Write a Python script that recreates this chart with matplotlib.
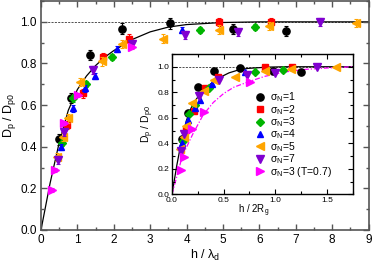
import numpy as np
import matplotlib
matplotlib.use("Agg")
from matplotlib import pyplot as plt
from matplotlib.ticker import MultipleLocator

plt.rcParams['font.family'] = ['Liberation Sans', 'DejaVu Sans']
plt.rcParams['mathtext.fontset'] = 'custom'
plt.rcParams['mathtext.rm'] = 'Liberation Sans'
plt.rcParams['mathtext.it'] = 'Liberation Sans'
plt.rcParams['mathtext.default'] = 'regular'

# main panel data: h / lambda_d  vs  Dp / Dp0
x1 = [0.50, 0.82, 1.35, 2.22, 3.54, 5.27, 6.74]
y1 = [0.435, 0.635, 0.84, 0.968, 0.993, 0.965, 0.955]
x2 = [0.71, 1.15, 1.71, 2.43, 4.90, 6.33]
y2 = [0.504, 0.656, 0.83, 0.92, 1.0, 1.0]
x3 = [0.58, 0.89, 1.24, 1.94, 4.38, 5.89]
y3 = [0.42, 0.632, 0.70, 0.83, 0.96, 0.976]
x4 = [0.54, 0.87, 1.21, 1.48, 2.10, 3.86]
y4 = [0.40, 0.584, 0.68, 0.74, 0.868, 0.96]
x5 = [0.43, 0.61, 0.75, 1.07, 1.67, 2.22, 3.34, 4.88, 6.26, 8.66]
y5 = [0.352, 0.448, 0.536, 0.712, 0.81, 0.895, 0.92, 0.963, 0.98, 0.995]
x7 = [0.48, 0.64, 1.44, 2.49, 3.96, 5.40, 7.66]
y7 = [0.336, 0.472, 0.768, 0.895, 0.936, 0.95, 1.0]
xT = [0.29, 0.385, 0.63, 1.02, 2.49]
yT = [0.192, 0.29, 0.515, 0.648, 0.88]

# inset data: h / 2Rg
u1 = [0.093, 0.152, 0.25, 0.41, 0.655, 0.975, 1.247]
u2 = [0.131, 0.212, 0.315, 0.447, 0.902, 1.165]
u3 = [0.106, 0.163, 0.227, 0.355, 0.80, 1.078]
u4 = [0.099, 0.159, 0.221, 0.271, 0.384, 0.706]
u5 = [0.079, 0.112, 0.138, 0.197, 0.307, 0.408, 0.615, 0.898, 1.152, 1.593]
u7 = [0.088, 0.118, 0.265, 0.458, 0.729, 0.994, 1.409]
uT = [0.088, 0.117, 0.192, 0.311, 0.759]

# fit curves
cx = [0, 0.25, 0.5, 0.75, 1.0, 1.25, 1.5, 1.75, 2.0, 2.5, 3.0, 3.5, 4.0, 5.0, 6.0, 7.0, 9.0]
cy = [0, 0.225, 0.42, 0.575, 0.675, 0.74, 0.79, 0.83, 0.862, 0.915, 0.952, 0.975, 0.987, 0.997, 1.0, 1.0, 1.0]
icx = [0, 0.046, 0.092, 0.138, 0.184, 0.23, 0.276, 0.322, 0.368, 0.46, 0.552, 0.644, 0.736, 0.92, 1.1, 1.29, 1.75]
mcx = [0, 0.1, 0.2, 0.3, 0.4, 0.5, 0.6, 0.75, 0.9, 1.1, 1.3, 1.5, 1.75]
mcy = [0, 0.3, 0.47, 0.62, 0.72, 0.79, 0.84, 0.885, 0.925, 0.96, 0.98, 0.99, 1.0]

labels = [r'$\sigma_N$=1', r'$\sigma_N$=2', r'$\sigma_N$=3', r'$\sigma_N$=4',
          r'$\sigma_N$=5', r'$\sigma_N$=7', r'$\sigma_N$=3 (T=0.7)']
colors = ['black', 'red', '#00b400', 'blue', 'orange', '#8000d0', 'magenta']
markers = ['o', 's', 'D', '^', '<', 'v', '>']
sizes = [5.2, 4.6, 3.8, 4.8, 5.2, 5.2, 5.2]
errs = [0.025, 0.02, 0.015, 0.015, 0.02, 0.02, 0.01]
main_x = [x1, x2, x3, x4, x5, x7, xT]
main_y = [y1, y2, y3, y4, y5, y7, yT]
ins_x = [u1, u2, u3, u4, u5, u7, uT]

fig = plt.figure(figsize=(3.74, 2.63), dpi=100)
ax = fig.add_axes([0.1096, 0.1255, 0.876, 0.8705])
for i in range(7):
    ax.errorbar(main_x[i], main_y[i], yerr=errs[i], fmt='none', ecolor=colors[i],
                elinewidth=0.8, capsize=1.5, capthick=0.8)
    ax.plot(main_x[i], main_y[i], linestyle='none', marker=markers[i],
            color=colors[i], ms=sizes[i], mec=colors[i])
ax.plot(cx, cy, color='black', lw=0.9, zorder=1)
ax.axhline(1.0, color='#333333', lw=0.6, ls=(0, (2.5, 1.5)), zorder=0)
ax.set_xlim(0, 9)
ax.set_ylim(0, 1.1)
ax.xaxis.set_major_locator(MultipleLocator(1))
ax.xaxis.set_minor_locator(MultipleLocator(0.5))
ax.set_yticks([0, 0.2, 0.4, 0.6, 0.8, 1.0])
ax.set_yticklabels(['0.0', '0.2', '0.4', '0.6', '0.8', '1.0'])
ax.yaxis.set_minor_locator(MultipleLocator(0.1))
ax.tick_params(which='both', direction='in', top=True, right=True, labelsize=8.5, pad=3,
               color='#555555')
ax.tick_params(which='major', length=4.5, width=1)
ax.tick_params(which='minor', length=2.5, width=1)
for s in ax.spines.values():
    s.set_color('#555555')
    s.set_linewidth(1.2)
ax.set_xlabel(r'h / $\lambda_d$', fontsize=9, labelpad=1)
ax.set_ylabel(r'D$_p$ / D$_{p0}$', fontsize=9, labelpad=2)

ins = fig.add_axes([0.4599, 0.2612, 0.4831, 0.5335])
for i in range(7):
    ins.plot(ins_x[i], main_y[i], linestyle='none', marker=markers[i],
             color=colors[i], ms=sizes[i], mec=colors[i], label=labels[i])
ins.plot(icx, cy, color='black', lw=0.9, zorder=1)
ins.plot(mcx, mcy, color='magenta', lw=0.9, ls=(0, (4, 1.5, 1, 1.5)), zorder=1)
ins.axhline(1.0, color='#333333', lw=0.6, ls=(0, (2.5, 1.5)), zorder=0)
ins.set_xlim(0, 1.75)
ins.set_ylim(0, 1.1)
ins.xaxis.set_major_locator(MultipleLocator(0.5))
ins.xaxis.set_minor_locator(MultipleLocator(0.25))
ins.set_yticks([0, 0.2, 0.4, 0.6, 0.8, 1.0])
ins.set_yticklabels(['0.0', '0.2', '0.4', '0.6', '0.8', '1.0'])
ins.yaxis.set_minor_locator(MultipleLocator(0.1))
ins.tick_params(which='both', direction='in', top=True, right=True, labelsize=6, pad=2)
ins.tick_params(which='major', length=3.5, width=0.8)
ins.tick_params(which='minor', length=2, width=0.8)
for s in ins.spines.values():
    s.set_linewidth(1.0)
ins.set_xlabel(r'h / 2R$_g$', fontsize=7)
ins.xaxis.set_label_coords(0.45, -0.06)
ins.set_ylabel(r'D$_p$ / D$_{p0}$', fontsize=7.5, labelpad=1)
ins.legend(loc='upper left', bbox_to_anchor=(0.46, 0.74), frameon=False, fontsize=7.5,
           handlelength=1.0, handletextpad=0.45, labelspacing=-0.14, borderpad=0,
           borderaxespad=0)

fig.savefig('out.png', dpi=100)
